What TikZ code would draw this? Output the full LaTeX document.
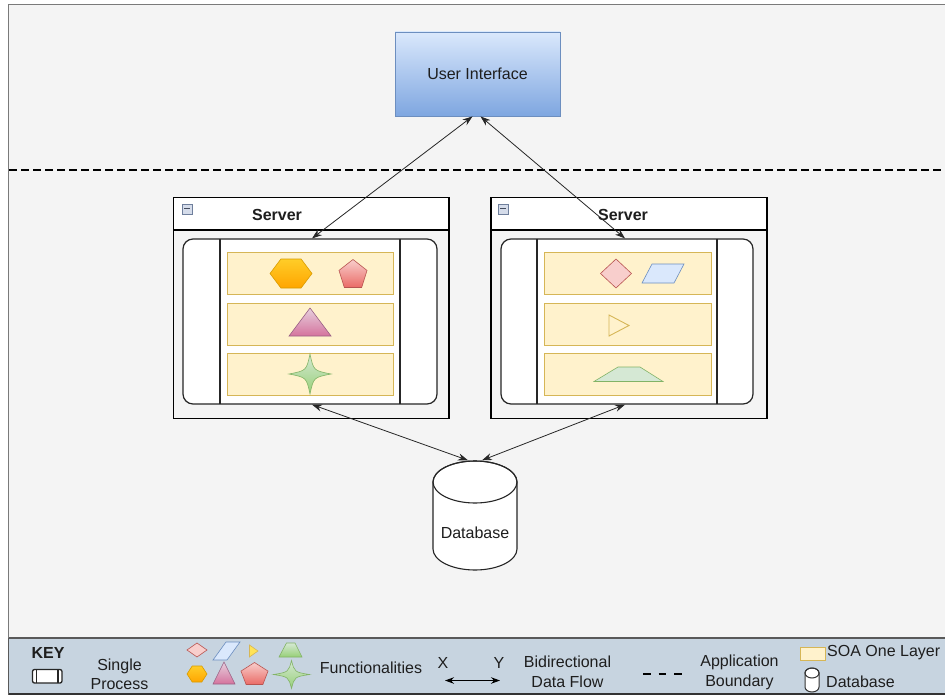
\documentclass[tikz,border=0pt]{standalone}
\usepackage{fontspec}
\setmainfont{Liberation Sans}
\usetikzlibrary{arrows.meta}

\definecolor{canvas}{HTML}{F4F4F4}
\definecolor{framegray}{HTML}{7A7A7A}
\definecolor{keybar}{HTML}{C7D4E0}
\definecolor{txt}{HTML}{1E1E1E}
\definecolor{uitop}{HTML}{DAE8FC}
\definecolor{uibot}{HTML}{7EA6E0}
\definecolor{uiline}{HTML}{6C8EBF}
\definecolor{layerfill}{HTML}{FFF2CC}
\definecolor{layerline}{HTML}{D6B656}
\definecolor{orangetop}{HTML}{FFCD28}
\definecolor{orangebot}{HTML}{FFA500}
\definecolor{orangeline}{HTML}{D79B00}
\definecolor{redtop}{HTML}{F8CECC}
\definecolor{redbot}{HTML}{EA6B66}
\definecolor{redline}{HTML}{B85450}
\definecolor{pinktop}{HTML}{E6D0DE}
\definecolor{pinkbot}{HTML}{D5739D}
\definecolor{pinkline}{HTML}{996185}
\definecolor{greentop}{HTML}{D5E8D4}
\definecolor{greenbot}{HTML}{97D077}
\definecolor{greenline}{HTML}{82B366}
\definecolor{bluefill}{HTML}{DAE8FC}
\definecolor{iconfill}{HTML}{D5DCEA}
\definecolor{iconline}{HTML}{6F7F9C}

\tikzset{
  lbl/.style={text=txt, font=\fontsize{16}{18}\selectfont, inner sep=0pt},
  lbltwo/.style={lbl, align=center, font=\fontsize{16}{19.5}\selectfont},
  uibox/.style={draw=uiline, line width=0.8pt, top color=uitop, bottom color=uibot,
    minimum width=165pt, minimum height=84pt, text=txt, font=\fontsize{16}{18}\selectfont},
  servframe/.style={draw=black, line width=1.3pt, fill=canvas},
  servhead/.style={draw=black, line width=1.3pt, fill=white},
  servtitle/.style={text=txt, font=\bfseries\fontsize{16}{18}\selectfont, inner sep=0pt},
  procbox/.style={draw=black!85, line width=1.2pt, fill=white, rounded corners=10pt,
    inner sep=0pt},
  layer/.style={draw=layerline, line width=0.9pt, fill=layerfill},
  flow/.style={line width=0.8pt, draw=black!85,
    {Stealth[length=10pt,width=7pt]}-{Stealth[length=10pt,width=7pt]}},
  hexshape/.style={draw=orangeline, line width=0.6pt, top color=orangetop, bottom color=orangebot},
  redshape/.style={draw=redline, line width=0.6pt, top color=redtop, bottom color=redbot},
  pinkshape/.style={draw=pinkline, line width=0.6pt, top color=pinktop, bottom color=pinkbot},
  greenshape/.style={draw=greenline, line width=0.6pt, top color=greentop, bottom color=greenbot},
  flatred/.style={draw=redline, line width=0.6pt, fill=redtop},
  flatblue/.style={draw=uiline, line width=0.6pt, fill=bluefill},
  flatgreen/.style={draw=greenline, line width=0.6pt, fill=greentop},
  flatyellow/.style={draw=layerline, line width=0.9pt, fill=layerfill},
  minusicon/.style={draw=iconline, fill=iconfill, line width=0.5pt,
    minimum width=10pt, minimum height=10pt, inner sep=0pt},
}

% shape macros, drawn around the current origin
\newcommand\hexagonpath[2]{(-#1,0) -- (-0.48*#1,-#2) -- (0.48*#1,-#2) -- (#1,0) -- (0.48*#1,#2) -- (-0.48*#1,#2) -- cycle}
\newcommand\pentagonpath[2]{(0,-#2) -- (#1,-0.22*#2) -- (0.62*#1,#2) -- (-0.62*#1,#2) -- (-#1,-0.22*#2) -- cycle}
\newcommand\fourstarpath[2]{(0,-#2) .. controls (0.17*#1,-0.17*#2) .. (#1,0) .. controls (0.17*#1,0.17*#2) .. (0,#2) .. controls (-0.17*#1,0.17*#2) .. (-#1,0) .. controls (-0.17*#1,-0.17*#2) .. cycle}

\begin{document}
\begin{tikzpicture}[x=1pt, y=-1pt]
\useasboundingbox (0,0) rectangle (945,695);

% page and canvas
\fill[white] (0,0) rectangle (945,695);
\fill[canvas] (8,4) rectangle (945,638);
\draw[framegray, line width=1.4pt] (945,4.5) -- (8.5,4.5) -- (8.5,695);

% application boundary
\draw[black, line width=2.6pt, dash pattern=on 7.5pt off 4.5pt] (9,170) -- (945,170);

% user interface
\node[uibox] (ui) at (477.5,74) {User Interface};

% ---------- left server ----------
\draw[servframe] (173.5,197.5) rectangle (449,418.5);
\draw[servhead] (173.5,197.5) rectangle (449,230);
\node[servtitle] (t1) at (277,215) {Server};
\node[minusicon] (m1) at (187,209) {};
\draw[iconline!60!black, line width=1pt] (184,209) -- (190,209);
\node[procbox, minimum width=254pt, minimum height=165pt] (s1) at (310,321.5) {};
\draw[black!85, line width=1.2pt] (220,239) -- (220,404) (400,239) -- (400,404);
\node[layer, minimum width=166pt, minimum height=42pt] (s1a) at (310,273) {};
\node[layer, minimum width=166pt, minimum height=42pt] (s1b) at (310,324) {};
\node[layer, minimum width=166pt, minimum height=42pt] (s1c) at (310,374) {};
\begin{scope}[shift={(291,273.5)}]
  \draw[hexshape] \hexagonpath{21}{14.5};
\end{scope}
\begin{scope}[shift={(353,273.5)}]
  \draw[redshape] \pentagonpath{14}{14};
\end{scope}
\draw[pinkshape] (310,308) -- (331,336) -- (289,336) -- cycle;
\begin{scope}[shift={(310,374)}]
  \draw[greenshape] \fourstarpath{21}{20};
\end{scope}

% ---------- right server ----------
\draw[servframe] (491,197.5) rectangle (767,418.5);
\draw[servhead] (491,197.5) rectangle (767,230);
\node[servtitle] (t2) at (623,215) {Server};
\node[minusicon] (m2) at (503,209) {};
\draw[iconline!60!black, line width=1pt] (500,209) -- (506,209);
\node[procbox, minimum width=252pt, minimum height=165pt] (s2) at (627,321.5) {};
\draw[black!85, line width=1.2pt] (537,239) -- (537,404) (717,239) -- (717,404);
\node[layer, minimum width=167pt, minimum height=42pt] (s2a) at (627.5,273) {};
\node[layer, minimum width=167pt, minimum height=42pt] (s2b) at (627.5,324) {};
\node[layer, minimum width=167pt, minimum height=42pt] (s2c) at (627.5,374) {};
\draw[flatred] (616,259) -- (631.5,273.5) -- (616,288) -- (600.5,273.5) -- cycle;
\draw[flatblue] (652,264) -- (684,264) -- (674,283) -- (642,283) -- cycle;
\draw[flatyellow] (609,315) -- (629,325.5) -- (609,336) -- cycle;
\draw[flatgreen] (594,381.5) -- (618,367) -- (640,367) -- (663,381.5) -- cycle;

% ---------- database ----------
\node[minimum width=84pt, minimum height=110pt, inner sep=0pt] (db) at (475,515.5) {};
\draw[black!85, line width=1.1pt, fill=white]
  (433,482) -- (433,549) arc[start angle=180, end angle=0, x radius=42, y radius=21]
  -- (517,482) arc[start angle=0, end angle=-180, x radius=42, y radius=21] -- cycle;
\draw[black!85, line width=1.1pt] (475,482) ellipse[x radius=42, y radius=21];
\node[lbl] (dbtext) at (475,533) {Database};

% ---------- data flows ----------
\draw[flow] ([xshift=-5pt]ui.south) -- ([xshift=2pt]s1.north);
\draw[flow] ([xshift=3pt]ui.south) -- ([xshift=-2pt]s2.north);
\draw[flow] ([xshift=2pt]s1.south) -- ([xshift=-7pt]db.north);
\draw[flow] ([xshift=-2pt]s2.south) -- ([xshift=7pt]db.north);

% ---------- key ----------
\fill[keybar] (8,638) rectangle (945,695);
\draw[black!65, line width=1.4pt] (8.5,638) -- (945,638);
\draw[black!80, line width=1.6pt] (8.5,694) -- (945,694);
\draw[black!65, line width=1.4pt] (8.5,638) -- (8.5,695);

\node[servtitle] (key) at (48,653) {KEY};
\draw[black!85, line width=1.3pt, fill=white, rounded corners=2pt] (32.5,669.5) rectangle (62,683);
\draw[black!85, line width=1.2pt] (36.5,669.5) -- (36.5,683) (58,669.5) -- (58,683);
\node[lbltwo] (ksp) at (119.5,674.5) {Single\\Process};

\draw[flatred] (197,643) -- (207,650) -- (197,657) -- (187,650) -- cycle;
\draw[flatblue] (226,642) -- (240,642) -- (227,660) -- (213,660) -- cycle;
\draw[draw=layerline, fill=layerfill!70!orange!60!yellow, line width=0.6pt] (249.5,645) -- (258,651) -- (249.5,657) -- cycle;
\draw[greenshape] (279,657) -- (286.5,643) -- (295,643) -- (302,657) -- cycle;
\begin{scope}[shift={(197,674)}]
  \draw[hexshape] \hexagonpath{10}{8};
\end{scope}
\draw[pinkshape] (224,662) -- (235,684) -- (213,684) -- cycle;
\begin{scope}[shift={(254.5,673.5)}]
  \draw[redshape] \pentagonpath{13.5}{11};
\end{scope}
\begin{scope}[shift={(291.5,674.5)}]
  \draw[greenshape] \fourstarpath{18}{14};
\end{scope}
\node[lbl] (kfun) at (371,668) {Functionalities};

\node[lbl] (kx) at (443,663) {X};
\node[lbl] (ky) at (499,663) {Y};
\coordinate (kxa) at (445,680.5);
\coordinate (kya) at (500,680.5);
\draw[line width=1.1pt, {Stealth[length=9pt,width=6.5pt]}-{Stealth[length=9pt,width=6.5pt]}] (kxa) -- (kya);
\node[lbltwo] (kflow) at (567.5,672) {Bidirectional\\Data Flow};

\draw[black, line width=2.6pt, dash pattern=on 7.5pt off 8pt] (643,674) -- (684,674);
\node[lbltwo] (kbound) at (739.5,672.5) {Application\\Boundary};

\draw[flatyellow] (800,647) rectangle (825,660);
\node[lbl, anchor=west] (ksoa) at (827,652.5) {SOA One Layer};
\draw[black!80, line width=1pt, fill=white]
  (805,673) -- (805,687) arc[start angle=180, end angle=0, x radius=7, y radius=5]
  -- (819,673) arc[start angle=0, end angle=-180, x radius=7, y radius=5] -- cycle;
\draw[black!80, line width=1pt] (812,673) ellipse[x radius=7, y radius=5];
\node[lbl, anchor=west] (kdb) at (826,681.5) {Database};
\end{tikzpicture}
\end{document}
